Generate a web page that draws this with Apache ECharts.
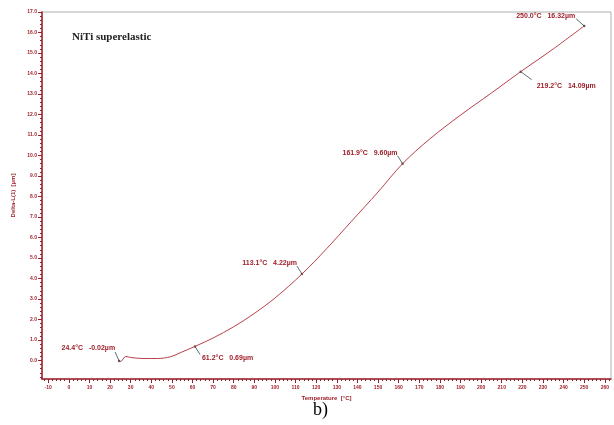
<!DOCTYPE html>
<html>
<head>
<meta charset="utf-8">
<script src="https://cdn.jsdelivr.net/npm/echarts@6/dist/echarts.min.js"></script>
<style>html,body{margin:0;padding:0;background:#fff}#c{width:614px;height:425px}</style>
</head>
<body>
<div id="c"></div>
<script>
// Curve samples (temperature °C, Delta-L µm)
var temps = [24.4, 25.0, 27.7, 30, 36, 43, 49.5, 54.5, 61.2, 70, 80, 90, 100, 113.1, 125, 137, 150, 161.9, 175, 190, 205, 219.2, 235, 250.0];
var vals  = [-0.02, -0.05, 0.20, 0.15, 0.10, 0.10, 0.19, 0.40, 0.69, 1.10, 1.65, 2.30, 3.05, 4.22, 5.45, 6.78, 8.22, 9.60, 10.80, 11.97, 13.05, 14.09, 15.20, 16.32];
// Annotated points
var annTemps = [24.4, 61.2, 113.1, 161.9, 219.2, 250.0];
var annVals  = [-0.02, 0.69, 4.22, 9.60, 14.09, 16.32];
// Tick labels
var xTicks = [-10,0,10,20,30,40,50,60,70,80,90,100,110,120,130,140,150,160,170,180,190,200,210,220,230,240,250,260];
var yTicks = [0,1,2,3,4,5,6,7,8,9,10,11,12,13,14,15,16,17];

var RED = '#9e1f2a';
var xMinor = [], yMinor = [];
for (var i = -12; i <= 262; i += 2) xMinor.push(i);
for (var j = -8; j <= 170; j += 2) yMinor.push(j / 10);

var curve = temps.map(function (t, k) { return [t, vals[k]]; });

var chart = echarts.init(document.getElementById('c'), null, {renderer: 'canvas'});
var option = {
  animation: false,
  backgroundColor: '#fff',
  grid: {left: 42, right: 3, top: 12, bottom: 46, show: true, borderColor: '#b0b0b0', borderWidth: 1, backgroundColor: 'transparent'},
  title: {
    text: 'NiTi superelastic', left: 67, top: 27,
    textStyle: {fontFamily: 'Liberation Serif', fontWeight: 'bold', fontSize: 11, color: '#222'}
  },
  xAxis: [{
    type: 'value', min: -13, max: 263,
    name: 'Temperature  [°C]', nameLocation: 'middle', nameGap: 11,
    nameTextStyle: {color: RED, fontSize: 6, fontWeight: 'bold', fontFamily: 'Liberation Sans'},
    axisLine: {show: true, onZero: false, lineStyle: {color: RED, width: 1.5}},
    axisTick: {show: true, length: 4, customValues: xTicks, lineStyle: {color: RED}},
    axisLabel: {show: true, customValues: xTicks, color: RED, fontSize: 5, fontWeight: 'bold', margin: 6, fontFamily: 'Liberation Sans'},
    splitLine: {show: false}
  }, {
    type: 'value', min: -13, max: 263, position: 'bottom',
    axisLine: {show: false, onZero: false},
    axisTick: {show: true, length: 2, customValues: xMinor, lineStyle: {color: RED}},
    axisLabel: {show: false},
    splitLine: {show: false}
  }],
  yAxis: [{
    type: 'value', min: -0.9, max: 17.0,
    name: 'Delta-L(1)  [µm]', nameLocation: 'middle', nameGap: 18,
    nameTextStyle: {color: RED, fontSize: 6, fontWeight: 'bold', fontFamily: 'Liberation Sans'},
    axisLine: {show: true, onZero: false, lineStyle: {color: RED, width: 1.5}},
    axisTick: {show: true, length: 4, customValues: yTicks, lineStyle: {color: RED}},
    axisLabel: {show: true, customValues: yTicks, color: RED, fontSize: 5, fontWeight: 'bold', margin: 5, fontFamily: 'Liberation Sans',
      formatter: function (v) { return v.toFixed(1); }},
    splitLine: {show: false}
  }, {
    type: 'value', min: -0.9, max: 17.0, position: 'left',
    axisLine: {show: false, onZero: false},
    axisTick: {show: true, length: 2, customValues: yMinor, lineStyle: {color: RED}},
    axisLabel: {show: false},
    splitLine: {show: false}
  }],
  series: [{
    type: 'line', xAxisIndex: 0, yAxisIndex: 0,
    data: curve, smooth: 0.35, showSymbol: false, symbol: 'none',
    lineStyle: {color: '#b8404c', width: 1}
  }, {
    type: 'scatter', xAxisIndex: 0, yAxisIndex: 0,
    data: annTemps.map(function (t, k) { return [t, annVals[k]]; }),
    symbolSize: 2.5, itemStyle: {color: '#333'}
  }],
  graphic: [{
    type: 'text', left: 313, top: 401,
    style: {text: 'b)', fontFamily: 'Liberation Serif', fontSize: 18, fill: '#000'}
  }]
};
chart.setOption(option);

// Annotation label offsets (styling, in pixels relative to the data point)
var annStyle = [
  {lx: -4, ly: -9, tx: -4, ty: -13, align: 'right'},
  {lx: 5, ly: 8, tx: 7, ty: 12, align: 'left'},
  {lx: -5, ly: -8, tx: -5, ty: -11, align: 'right'},
  {lx: -5, ly: -8, tx: -5, ty: -11, align: 'right'},
  {lx: 11, ly: 8, tx: 16, ty: 14, align: 'left'},
  {lx: -8, ly: -7, tx: -9, ty: -10, align: 'right'}
];
var g = [];
annTemps.forEach(function (t, k) {
  var p = chart.convertToPixel({xAxisIndex: 0, yAxisIndex: 0}, [t, annVals[k]]);
  var s = annStyle[k];
  g.push({type: 'line', shape: {x1: p[0], y1: p[1], x2: p[0] + s.lx, y2: p[1] + s.ly}, style: {stroke: '#5b7378', lineWidth: 1}});
  g.push({type: 'text', x: p[0] + s.tx, y: p[1] + s.ty,
    style: {text: t.toFixed(1) + '°C   ' + annVals[k].toFixed(2) + 'µm', fill: RED, fontSize: 7, fontWeight: 'bold', fontFamily: 'Liberation Sans', align: s.align, verticalAlign: 'middle'}});
});
option.graphic = option.graphic.concat(g);
chart.setOption({graphic: option.graphic});
</script>
</body>
</html>
